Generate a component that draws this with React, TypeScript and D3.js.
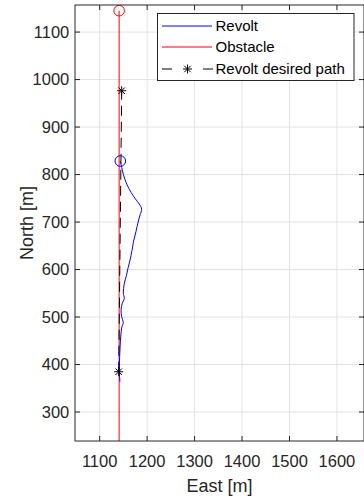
import React from "react";
import * as d3 from "d3";

// Vessel track (East, North) in metres
const revoltEast = [1142.8, 1141.6, 1141.6, 1142, 1143, 1144.3, 1145.5, 1147, 1149.8, 1148, 1146.4, 1145.3, 1145, 1146, 1147.7, 1151.9, 1151, 1149.8, 1150.5, 1151.9, 1156.5, 1160, 1164, 1168, 1171.5, 1176.5, 1181, 1185, 1188.5, 1183.5, 1175, 1166.5, 1157, 1150, 1146.5, 1144, 1143.5];
const revoltNorth = [364, 380, 395, 415, 437, 458, 470, 480, 488, 495, 501, 508, 515, 522, 529, 539, 545, 550, 560, 571, 588, 604, 620, 640, 660, 680, 700, 715, 727, 738, 749, 762, 780, 800, 815, 825, 828.5];

// Obstacle track
const obstacleEast = [1141, 1141];
const obstacleNorth = [200, 1145];

// Desired path waypoints
const desiredEast = [1140.1, 1146.4];
const desiredNorth = [384.8, 976.5];

const xTicks = [1100, 1200, 1300, 1400, 1500, 1600];
const yTicks = [300, 400, 500, 600, 700, 800, 900, 1000, 1100];
const legendLabels = ["Revolt", "Obstacle", "Revolt desired path"];

const W = 364;
const H = 498;
const left = 75, right = 364, top = 5, bottom = 441;
const FONT = "'Liberation Sans', Arial, Helvetica, sans-serif";
const AX = "#262626";

function starPath(cx: number, cy: number, r: number) {
  const p = d3.path();
  const d = r * 0.72;
  p.moveTo(cx - r, cy); p.lineTo(cx + r, cy);
  p.moveTo(cx, cy - r); p.lineTo(cx, cy + r);
  p.moveTo(cx - d, cy - d); p.lineTo(cx + d, cy + d);
  p.moveTo(cx - d, cy + d); p.lineTo(cx + d, cy - d);
  return p.toString();
}

export default function App() {
  const x = d3.scaleLinear().domain([1048, 1657]).range([left, right]);
  const y = d3.scaleLinear().domain([239, 1157]).range([bottom, top]);

  const line = d3.line<[number, number]>().x((d) => x(d[0])).y((d) => y(d[1]));
  const smooth = d3
    .line<[number, number]>()
    .x((d) => x(d[0]))
    .y((d) => y(d[1]))
    .curve(d3.curveCatmullRom.alpha(0.5));

  const revolt = revoltEast.map((e, i) => [e, revoltNorth[i]] as [number, number]);
  const obstacle = obstacleEast.map((e, i) => [e, obstacleNorth[i]] as [number, number]);
  const desired = desiredEast.map((e, i) => [e, desiredNorth[i]] as [number, number]);
  const revoltEnd = revolt[revolt.length - 1];
  const obstacleEnd = obstacle[obstacle.length - 1];

  const lgX = 157.5, lgY = 13.5, lgW = 196.5, lgH = 67;
  const rowY = [26, 47, 69];

  return (
    <svg width={W} height={H} style={{ position: "absolute", left: 0, top: 0, background: "#fff" }}>
      <defs>
        <clipPath id="plotArea">
          <rect x={left} y={top} width={right - left} height={bottom - top} />
        </clipPath>
      </defs>
      <rect x={0} y={0} width={W} height={H} fill="#fff" />

      {/* grid */}
      <g stroke="#e3e3e3" strokeWidth={1}>
        {xTicks.map((t) => (
          <line key={"gx" + t} x1={x(t)} x2={x(t)} y1={top} y2={bottom} />
        ))}
        {yTicks.map((t) => (
          <line key={"gy" + t} x1={left} x2={right} y1={y(t)} y2={y(t)} />
        ))}
      </g>

      <g clipPath="url(#plotArea)">
        <path d={line(obstacle) || ""} fill="none" stroke="#ff0000" strokeWidth={1} />
        <path d={line(desired) || ""} fill="none" stroke="#000" strokeWidth={1} strokeDasharray="10,6" />
        <path d={smooth(revolt) || ""} fill="none" stroke="#0000ff" strokeWidth={1} />
        {desired.map((d, i) => (
          <path key={"st" + i} d={starPath(x(d[0]), y(d[1]), 4.5)} stroke="#000" strokeWidth={1} fill="none" />
        ))}
        <circle cx={x(revoltEnd[0])} cy={y(revoltEnd[1])} r={5.3} fill="none" stroke="#0000ff" strokeWidth={1} />
        <circle cx={x(obstacleEnd[0])} cy={y(obstacleEnd[1])} r={5.3} fill="none" stroke="#ff0000" strokeWidth={1} />
      </g>

      {/* axes box and ticks */}
      <g stroke={AX} strokeWidth={1} fill="none">
        <rect x={left} y={top} width={right - left} height={bottom - top} />
        {xTicks.map((t) => (
          <g key={"tx" + t}>
            <line x1={x(t)} x2={x(t)} y1={bottom} y2={bottom - 5} />
            <line x1={x(t)} x2={x(t)} y1={top} y2={top + 5} />
          </g>
        ))}
        {yTicks.map((t) => (
          <g key={"ty" + t}>
            <line x1={left} x2={left + 5} y1={y(t)} y2={y(t)} />
            <line x1={right} x2={right - 5} y1={y(t)} y2={y(t)} />
          </g>
        ))}
      </g>

      {/* tick labels */}
      <g fontFamily={FONT} fontSize={16.5} fill={AX}>
        {xTicks.map((t) => (
          <text key={"lx" + t} x={x(t)} y={466.5} textAnchor="middle">{t}</text>
        ))}
        {yTicks.map((t) => (
          <text key={"ly" + t} x={69.3} y={y(t)} dy="0.35em" textAnchor="end">{t}</text>
        ))}
      </g>

      {/* axis titles */}
      <text x={(left + right) / 2} y={492} textAnchor="middle" fontFamily={FONT} fontSize={18} fill={AX}>East [m]</text>
      <text transform={`translate(33,${(top + bottom) / 2}) rotate(-90)`} textAnchor="middle" fontFamily={FONT} fontSize={18} fill={AX}>North [m]</text>

      {/* legend */}
      <g>
        <rect x={lgX} y={lgY} width={lgW} height={lgH} fill="#fff" stroke={AX} strokeWidth={1} />
        <line x1={162} x2={212} y1={rowY[0]} y2={rowY[0]} stroke="#0000ff" strokeWidth={1} />
        <line x1={162} x2={212} y1={rowY[1]} y2={rowY[1]} stroke="#ff0000" strokeWidth={1} />
        <line x1={162} x2={213} y1={rowY[2]} y2={rowY[2]} stroke="#000" strokeWidth={1} strokeDasharray="10,31" />
        <path d={starPath(187.5, rowY[2], 4.5)} stroke="#000" strokeWidth={1} fill="none" />
        <g fontFamily={FONT} fontSize={15} fill="#000">
          {legendLabels.map((l, i) => (
            <text key={l} x={215.5} y={rowY[i]} dy="0.35em">{l}</text>
          ))}
        </g>
      </g>
    </svg>
  );
}
